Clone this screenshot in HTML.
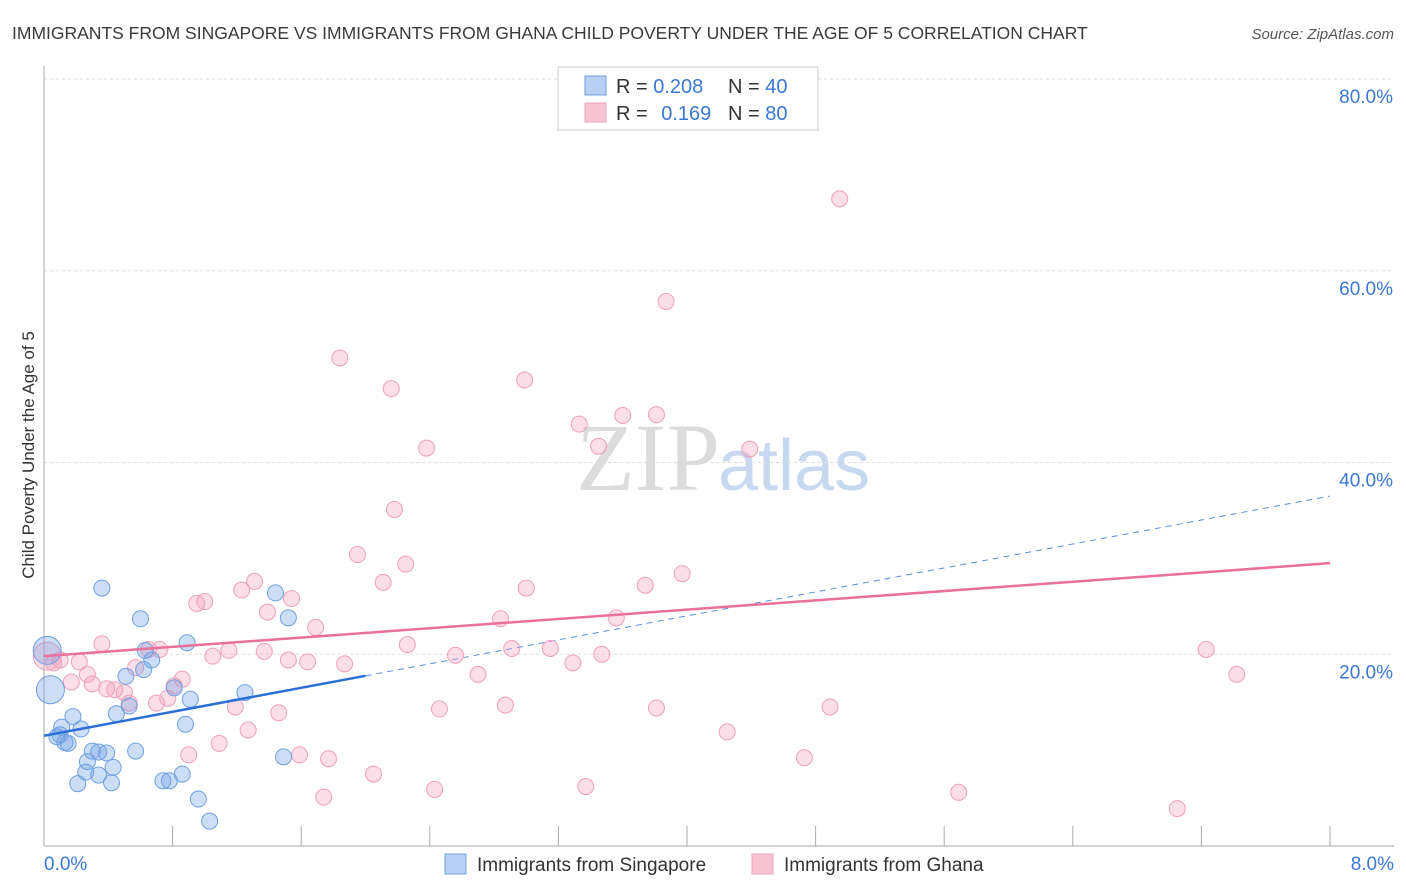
<!DOCTYPE html>
<html><head><meta charset="utf-8"><style>
body{margin:0;background:#fff;font-family:"Liberation Sans",sans-serif}
#wrap{position:relative;width:1406px;height:892px;overflow:hidden}
</style></head><body>
<div id="wrap">
<svg id="svg" width="1406" height="892" xmlns="http://www.w3.org/2000/svg">
<text x="12" y="39" font-size="17.5" fill="#3a3a3a">IMMIGRANTS FROM SINGAPORE VS IMMIGRANTS FROM GHANA CHILD POVERTY UNDER THE AGE OF 5 CORRELATION CHART</text>
<text x="1394" y="39" font-size="15" fill="#555" font-style="italic" text-anchor="end">Source: ZipAtlas.com</text>
<text x="720" y="490" font-size="96" fill="#dcdcdc" text-anchor="end" font-family="Liberation Serif, serif">ZIP</text>
<text x="718" y="490" font-size="72" fill="#c8d8f0">atlas</text>
<g id="grid"></g><g id="axes"></g><g id="lines"></g><g id="pts"></g>
<text transform="translate(34,455) rotate(-90)" font-size="17" fill="#333" text-anchor="middle">Child Poverty Under the Age of 5</text>
<rect x="558" y="67" width="260" height="63" fill="#fff" stroke="#ccc"/>
<rect x="585" y="76" width="21" height="19" fill="#b8d0f4" stroke="#6fa0e0"/>
<rect x="585" y="103" width="21" height="19" fill="#f8c4d4" stroke="#eea0b8"/>
<g font-size="20">
<text x="616" y="93" fill="#333">R = <tspan fill="#3a78d4">0.208</tspan></text>
<text x="728" y="93" fill="#333">N = <tspan fill="#3a78d4">40</tspan></text>
<text x="616" y="120" fill="#333">R = <tspan fill="#3a78d4" dx="8">0.169</tspan></text>
<text x="728" y="120" fill="#333">N = <tspan fill="#3a78d4">80</tspan></text>
</g>
<rect x="445" y="854" width="21" height="20" fill="#b8d0f4" stroke="#6fa0e0"/>
<text x="477" y="871" font-size="19" fill="#333">Immigrants from Singapore</text>
<rect x="752" y="854" width="21" height="20" fill="#f8c4d4" stroke="#eea0b8"/>
<text x="784" y="871" font-size="19" fill="#333">Immigrants from Ghana</text>
</svg>
</div>
<script>
const yTicks=[20,40,60,80];
const yTickLabels=["20.0%","40.0%","60.0%","80.0%"];
const xTickLabels=["0.0%","8.0%"];
const sgX=[0.36,0.60,1.44,1.52,0.89,0.63,0.67,0.62,0.51,0.04,0.18,0.11,0.23,0.08,0.15,0.30,0.39,0.57,0.27,0.43,0.26,0.34,0.21,0.42,0.74,0.78,0.86,0.96,1.03,0.81,0.91,1.25,0.53,0.45,0.88,1.49,0.02,0.10,0.34,0.13];
const sgY=[26.9,23.7,26.4,23.8,21.2,20.4,19.4,18.4,17.7,16.3,13.5,12.4,12.2,11.4,10.7,9.9,9.7,9.9,8.8,8.2,7.7,7.4,6.5,6.6,6.8,6.8,7.5,4.9,2.6,16.5,15.3,16.0,14.6,13.8,12.7,9.3,20.4,11.6,9.8,10.8];
const sgBig=[9,36];
const ghX=[4.95,3.87,1.84,2.99,2.16,3.60,3.81,3.33,2.38,3.45,4.39,2.18,1.95,2.25,3.97,2.11,3.00,3.74,1.31,1.23,1.00,0.95,1.54,1.39,1.69,2.84,3.56,0.36,0.65,0.72,1.15,1.05,1.37,2.26,2.91,3.15,3.47,2.56,3.29,7.23,7.42,0.10,0.06,0.02,0.22,0.17,0.30,0.27,0.44,0.50,0.57,0.86,0.81,0.77,0.53,1.52,1.64,1.87,2.70,1.19,1.46,2.46,2.87,3.81,4.89,1.27,1.09,0.90,1.59,1.77,4.25,4.73,2.05,1.74,2.43,3.37,5.69,7.05,0.70,0.39];
const ghY=[67.5,56.8,50.9,48.6,47.7,44.9,45.0,44.0,41.5,41.7,41.4,35.1,30.4,29.4,28.4,27.5,26.9,27.2,27.6,26.7,25.5,25.3,25.8,24.4,22.8,23.7,23.8,21.1,20.5,20.5,20.4,19.8,20.3,21.0,20.6,20.6,20.0,19.9,19.1,20.5,17.9,19.4,19.1,19.8,19.2,17.1,16.9,17.9,16.3,16.0,18.6,17.4,16.7,15.4,14.9,19.4,19.2,19.0,17.9,14.5,13.9,14.3,14.7,14.4,14.5,12.1,10.7,9.5,9.5,9.1,11.9,9.2,7.5,5.1,5.9,6.2,5.6,3.9,14.9,16.4];
const ghBig=[43];
const sgTrend=[11.5,36.5]; // at x=0 and x=8
const sgSolidEnd=2.0;
const ghTrend=[19.8,29.5];

const NS="http://www.w3.org/2000/svg";
const X=v=>44+v*160.75, Y=v=>846-v*9.5875;
function mk(t,a,p){const e=document.createElementNS(NS,t);for(const k in a)e.setAttribute(k,a[k]);document.getElementById(p).appendChild(e);return e;}
yTicks.forEach((t,i)=>{
 const g=mk('line',{x1:44,x2:1394,y1:Y(t),y2:Y(t),stroke:'#ddd','stroke-dasharray':'3,3'},'grid');
 
 
 const l=mk('text',{x:1393,y:Y(t)+24,'font-size':19,fill:'#3a78d4','text-anchor':'end'},'axes');
 l.textContent=yTickLabels[i];
 
 
});
const ax=mk('line',{x1:44,x2:44,y1:66,y2:846,stroke:'#aaa'},'axes');


const bx=mk('line',{x1:44,x2:1394,y1:846,y2:846,stroke:'#aaa'},'axes');


for(let i=0;i<=10;i++){
 const t=mk('line',{x1:X(i*0.8),x2:X(i*0.8),y1:826,y2:846,stroke:'#aaa'},'axes');
 
 
}
[[0,44,'start'],[1,1394,'end']].forEach(([i,x,a])=>{
 const l=mk('text',{x:x,y:870,'font-size':19,fill:'#3a78d4','text-anchor':a},'axes');
 l.textContent=xTickLabels[i];
 
 
});
const lerp=(a,x)=>a[0]+(a[1]-a[0])*x/8;
const bd=mk('line',{x1:X(sgSolidEnd),y1:Y(lerp(sgTrend,sgSolidEnd)),x2:X(8),y2:Y(lerp(sgTrend,8)),stroke:'#5a8fdc','stroke-width':1,'stroke-dasharray':'6,5'},'lines');


function dots(xs,ys,big,fill,stroke,name){
 xs.forEach((x,i)=>{
  const c=mk('circle',{cx:X(x),cy:Y(ys[i]),r:big.includes(i)?14:8,fill:fill,stroke:stroke,'stroke-width':1},'pts');
  
  
 });
}
dots(ghX,ghY,ghBig,'rgba(245,160,190,0.35)','#eea0b8','ghana-point');
dots(sgX,sgY,sgBig,'rgba(110,160,230,0.35)','#6fa0e0','singapore-point');
const bl=mk('line',{x1:X(0),y1:Y(sgTrend[0]),x2:X(sgSolidEnd),y2:Y(lerp(sgTrend,sgSolidEnd)),stroke:'#2a6fd6','stroke-width':2.5},'pts');


const pl=mk('line',{x1:X(0),y1:Y(ghTrend[0]),x2:X(8),y2:Y(ghTrend[1]),stroke:'#e8709a','stroke-width':2.5},'pts');


</script>
</body></html>
